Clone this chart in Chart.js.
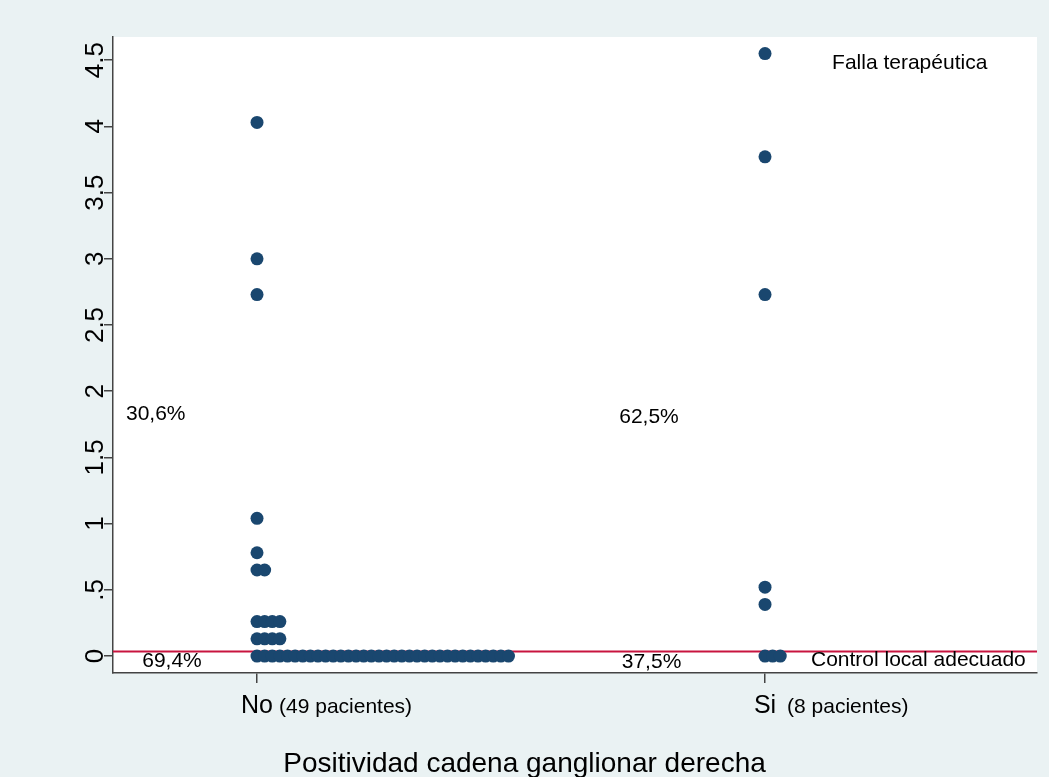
<!DOCTYPE html>
<html>
<head>
<meta charset="utf-8">
<script src="https://cdn.jsdelivr.net/npm/chart.js@4.4.1/dist/chart.umd.min.js"></script>
<style>
  html, body { margin: 0; padding: 0; background: #eaf2f3; }
  canvas { display: block; }
</style>
</head>
<body>
<canvas id="dotChart" width="1049" height="777"></canvas>
<script>
// groups on the x axis
const groups = ["No", "Si"];
const groupNotes = ["(49 pacientes)", "(8 pacientes)"];

// distinct values in each group and how many patients share each one
const noLevels = [4.03, 3.0, 2.73, 1.04, 0.78, 0.65, 0.26, 0.13, 0];
const noCounts = [1, 1, 1, 1, 1, 2, 4, 4, 34];
const siLevels = [4.55, 3.77, 2.73, 0.52, 0.39, 0];
const siCounts = [1, 1, 1, 1, 1, 3];

// y axis ticks
const yTicks = [0, 0.5, 1, 1.5, 2, 2.5, 3, 3.5, 4, 4.5];
const yTickLabels = ["0", ".5", "1", "1.5", "2", "2.5", "3", "3.5", "4", "4.5"];

// cut-off line between the two outcomes
const cutOff = 0.035;

// share of patients above / below the line, per group
const pctAbove = ["30,6%", "62,5%"];
const pctBelow = ["69,4%", "37,5%"];

const xTitle = "Positividad cadena ganglionar derecha";
const upperNote = "Falla terapéutica";
const lowerNote = "Control local adecuado";

const FONT = '"Liberation Sans", Arial, sans-serif';
const X_MIN = -0.2835, X_MAX = 1.5354;
const DOT_STEP = 0.015; // sideways shift for tied values (x units)

// turn levels + counts into stacked points, ties spread to the right
function stack(levels, counts, groupIndex) {
  const pts = [];
  levels.forEach((v, i) => {
    for (let k = 0; k < counts[i]; k++) {
      pts.push({ x: groupIndex + k * DOT_STEP, y: v });
    }
  });
  return pts;
}

const decorations = {
  id: "decorations",
  beforeDraw(chart) {
    const { ctx, chartArea: a } = chart;
    ctx.save();
    ctx.fillStyle = "#eaf2f3";
    ctx.fillRect(0, 0, chart.width, chart.height);
    ctx.fillStyle = "#ffffff";
    ctx.fillRect(a.left, a.top, a.right - a.left, a.bottom - a.top);
    ctx.restore();
  },
  afterDraw(chart) {
    const { ctx, chartArea: a } = chart;
    const x = chart.scales.x, y = chart.scales.y;
    ctx.save();
    ctx.fillStyle = "#000000";
    ctx.textBaseline = "alphabetic";

    // rotated y tick labels (Stata style)
    ctx.font = "26px " + FONT;
    ctx.textAlign = "center";
    y.ticks.forEach((t) => {
      ctx.save();
      ctx.translate(a.left - 10, y.getPixelForValue(t.value));
      ctx.rotate(-Math.PI / 2);
      ctx.fillText(t.label, 0, 0);
      ctx.restore();
    });

    // x tick labels with patient counts
    x.ticks.forEach((t, i) => {
      const px = x.getPixelForValue(t.value);
      ctx.font = "25px " + FONT;
      ctx.textAlign = "center";
      ctx.fillText(groups[i], px, a.bottom + 40);
      ctx.font = "21px " + FONT;
      ctx.textAlign = "left";
      ctx.fillText(groupNotes[i], px + 22, a.bottom + 40);
    });

    // percentages and outcome notes inside the plot
    ctx.font = "21px " + FONT;
    ctx.textAlign = "left";
    const put = (txt, xv, yv) => ctx.fillText(txt, x.getPixelForValue(xv), y.getPixelForValue(yv));
    put(pctAbove[0], -0.258, 1.78);
    put(pctBelow[0], -0.226, -0.083);
    put(pctAbove[1], 0.713, 1.76);
    put(pctBelow[1], 0.718, -0.09);
    put(upperNote, 1.132, 4.43);
    put(lowerNote, 1.0905, -0.0755);

    // axis title
    ctx.font = "28px " + FONT;
    ctx.textAlign = "center";
    ctx.fillText(xTitle, chart.width / 2, 772);
    ctx.restore();
  }
};

const dotStyle = {
  pointRadius: 6.5,
  pointHoverRadius: 6.5,
  pointBackgroundColor: "#1a476f",
  pointBorderWidth: 0,
  borderWidth: 0
};

new Chart(document.getElementById("dotChart"), {
  type: "scatter",
  data: {
    datasets: [
      Object.assign({ label: groups[0], data: stack(noLevels, noCounts, 0) }, dotStyle),
      Object.assign({ label: groups[1], data: stack(siLevels, siCounts, 1) }, dotStyle),
      {
        label: "cut-off",
        data: [{ x: X_MIN, y: cutOff }, { x: X_MAX, y: cutOff }],
        showLine: true,
        borderColor: "#c8143f",
        borderWidth: 2,
        pointRadius: 0
      }
    ]
  },
  options: {
    responsive: false,
    animation: false,
    devicePixelRatio: 1,
    layout: { padding: { top: 37, right: 12, left: 0, bottom: 0 } },
    plugins: { legend: { display: false }, tooltip: { enabled: false } },
    scales: {
      x: {
        type: "linear",
        min: X_MIN,
        max: X_MAX,
        afterBuildTicks: (s) => { s.ticks = groups.map((g, i) => ({ value: i })); },
        afterFit: (s) => { s.height = 104; },
        ticks: { display: false },
        grid: { display: true, drawOnChartArea: false, drawTicks: true, tickLength: 10, color: "#444444", lineWidth: 1.5 },
        border: { display: true, color: "#444444", width: 1.5 }
      },
      y: {
        type: "linear",
        min: -0.128,
        max: 4.675,
        afterBuildTicks: (s) => { s.ticks = yTicks.map((v) => ({ value: v })); },
        afterFit: (s) => { s.width = 113; },
        ticks: { display: false, callback: (v, i) => yTickLabels[i] },
        grid: { display: true, drawOnChartArea: false, drawTicks: true, tickLength: 9, color: "#444444", lineWidth: 1.5 },
        border: { display: true, color: "#444444", width: 1.5 }
      }
    }
  },
  plugins: [decorations]
});
</script>
</body>
</html>
